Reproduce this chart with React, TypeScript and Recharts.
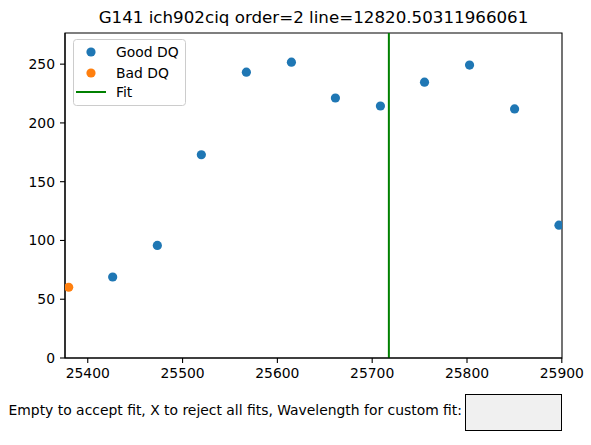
import {
  ReferenceArea,
  ReferenceLine,
  Scatter,
  ScatterChart,
  XAxis,
  YAxis,
} from "recharts";

// Wavelength positions (x) and fluxes (y).
const goodX = [25426.3, 25473.4, 25519.8, 25567.3, 25614.8, 25661.2, 25708.7, 25755.2, 25802.7, 25850.2, 25897.0];
const goodY = [68.9, 95.8, 172.9, 243.2, 251.7, 221.2, 214.4, 234.7, 249.2, 211.9, 113.0];
const badX = [25379.9];
const badY = [60.2];
const fitX = 25717.6;

const xTicks = [25400, 25500, 25600, 25700, 25800, 25900];
const yTicks = [0, 50, 100, 150, 200, 250];
const xDomain = [25376, 25900.2];
const yDomain = [0, 276.5];

const TITLE = "G141 ich902ciq order=2 line=12820.50311966061";
const PROMPT = "Empty to accept fit, X to reject all fits, Wavelength for custom fit:";

const BLUE = "#1f77b4";
const ORANGE = "#ff7f0e";
const FONT = "'DejaVu Sans', sans-serif";

const good = goodX.map((x, i) => ({ x, y: goodY[i] }));
const bad = badX.map((x, i) => ({ x, y: badY[i] }));

const dot = (color: string) => (p: any) =>
  <circle cx={p.cx} cy={p.cy} r={4.6} fill={color} />;

function LegendBox() {
  return (
    <svg width={113} height={67} style={{ display: "block" }}>
      <rect x={0.5} y={0.5} width={112} height={66} rx={3} fill="white" fillOpacity={0.8} stroke="#cccccc" />
      <circle cx={18} cy={13} r={4.6} fill={BLUE} />
      <text x={43} y={18} fontSize={13.9} fontFamily={FONT} fill="#000">Good DQ</text>
      <circle cx={18} cy={34} r={4.6} fill={ORANGE} />
      <text x={43} y={39} fontSize={13.9} fontFamily={FONT} fill="#000">Bad DQ</text>
      <line x1={3} x2={33} y1={53} y2={53} stroke="green" strokeWidth={2} />
      <text x={43} y={58} fontSize={13.9} fontFamily={FONT} fill="#000">Fit</text>
    </svg>
  );
}

export default function App() {
  const tickStyle = { fontSize: 13.9, fontFamily: FONT, fill: "#000" };
  return (
    <div style={{ position: "absolute", left: 0, top: 0, width: 591, height: 445, background: "#fff", fontFamily: FONT }}>
      <div style={{ position: "absolute", left: 65, width: 497, top: 7, textAlign: "center", fontSize: 16.7, color: "#000", whiteSpace: "nowrap" }}>
        {TITLE}
      </div>
      <ScatterChart width={591} height={445} margin={{ top: 33, right: 29, bottom: 57, left: 0 }}>
        <XAxis
          type="number"
          dataKey="x"
          domain={xDomain}
          ticks={xTicks}
          allowDataOverflow
          height={30}
          tickSize={5}
          tickMargin={5}
          tick={tickStyle}
          stroke="#000"
          strokeWidth={1.1}
        />
        <YAxis
          type="number"
          dataKey="y"
          domain={yDomain}
          ticks={yTicks}
          allowDataOverflow
          width={65}
          tickSize={5}
          tickMargin={5}
          tick={tickStyle}
          stroke="#000"
          strokeWidth={1.1}
        />
        <Scatter name="Good DQ" data={good} fill={BLUE} shape={dot(BLUE)} isAnimationActive={false} />
        <Scatter name="Bad DQ" data={bad} fill={ORANGE} shape={dot(ORANGE)} isAnimationActive={false} />
        <ReferenceLine x={fitX} stroke="green" strokeWidth={2} />
        <ReferenceArea x1={xDomain[0]} x2={xDomain[1]} y1={yDomain[0]} y2={yDomain[1]} fill="none" fillOpacity={0} stroke="#000" strokeWidth={1.1} />
      </ScatterChart>
      <div style={{ position: "absolute", left: 73, top: 39 }}>
        <LegendBox />
      </div>
      <div style={{ position: "absolute", right: 591 - 462, top: 402, fontSize: 13.9, color: "#000", whiteSpace: "nowrap" }}>
        {PROMPT}
      </div>
      <div style={{ position: "absolute", left: 465, top: 394, width: 95, height: 35, background: "#f0f0f0", border: "1px solid #000" }} />
    </div>
  );
}
